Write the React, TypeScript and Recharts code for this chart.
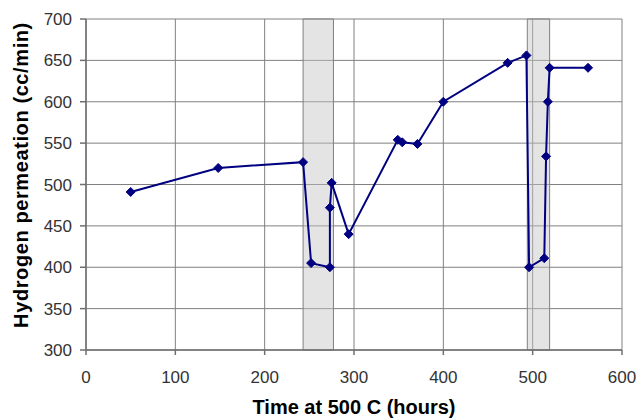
import React from 'react';
import { LineChart, Line, XAxis, YAxis, CartesianGrid, ReferenceArea } from 'recharts';

const hours = [50, 148, 243, 252, 273, 273, 275, 294, 349, 354, 371, 400, 472, 493, 496, 513, 515, 517, 519, 562];
const permeation = [491, 520, 527, 405, 400, 472, 502, 440, 554, 551, 549, 600, 647, 656, 400, 411, 534, 600, 641, 641];
const xTicks = [0, 100, 200, 300, 400, 500, 600];
const yTicks = [300, 350, 400, 450, 500, 550, 600, 650, 700];
const shadedStart = [243, 494];
const shadedEnd = [277, 519];
const xTitle = 'Time at 500 C (hours)';
const yTitle = 'Hydrogen permeation (cc/min)';

const data = hours.map((h, i) => ({ hours: h, permeation: permeation[i] }));

const FONT = '"Liberation Sans", Arial, sans-serif';
const NAVY = '#000080';
const GRID = '#808080';

const Diamond = (props: any) => {
  const { cx, cy, index } = props;
  if (cx == null || cy == null) return null;
  const r = 4.5;
  return (
    <path
      key={`d-${index}`}
      d={`M${cx},${cy - r}L${cx + r},${cy}L${cx},${cy + r}L${cx - r},${cy}Z`}
      fill={NAVY}
      stroke={NAVY}
      strokeWidth={1}
    />
  );
};

const XTitle = () => (
  <text x={346} y={406} textAnchor="middle" fontFamily={FONT} fontWeight="bold" fontSize={20} fill="#000">
    {xTitle}
  </text>
);

const YTitle = () => {
  const cx = 13;
  const cy = 167;
  return (
    <text
      x={cx}
      y={cy}
      transform={`rotate(-90, ${cx}, ${cy})`}
      textAnchor="middle"
      dominantBaseline="central"
      fontFamily={FONT}
      fontWeight="bold"
      fontSize={20}
      letterSpacing={0.6}
      fill="#000"
    >
      {yTitle}
    </text>
  );
};

export default function App() {
  return (
    <div style={{ width: 638, height: 419, boxSizing: 'border-box', paddingTop: 8, paddingLeft: 8, background: '#fff' }}>
      <style>{'html,body{margin:0;padding:0;overflow:hidden;}'}</style>
      <LineChart width={630} height={411} data={data} margin={{ top: 11, right: 16, bottom: 0, left: 0 }}>
        {shadedStart.map((s, i) => (
          <ReferenceArea
            key={`area-${i}`}
            x1={s}
            x2={shadedEnd[i]}
            y1={300}
            y2={700}
            fill="#c4c4c4"
            fillOpacity={0.45}
            stroke={GRID}
            strokeOpacity={1}
            strokeWidth={1}
            ifOverflow="visible"
          />
        ))}
        <CartesianGrid stroke={GRID} strokeWidth={1} horizontalValues={yTicks} verticalValues={xTicks} />
        <XAxis
          dataKey="hours"
          type="number"
          domain={[0, 600]}
          ticks={xTicks}
          interval={0}
          height={69}
          tickSize={5}
          tickMargin={16}
          axisLine={{ stroke: '#6f6f6f', strokeWidth: 1.5 }}
          tickLine={{ stroke: '#6f6f6f', strokeWidth: 1.5 }}
          tick={{ fontFamily: FONT, fontSize: 17, fill: '#333' }}
          label={() => <XTitle />}
        />
        <YAxis
          type="number"
          domain={[300, 700]}
          ticks={yTicks}
          interval={0}
          width={78}
          tickSize={6}
          tickMargin={8}
          axisLine={{ stroke: '#6f6f6f', strokeWidth: 1.5 }}
          tickLine={{ stroke: '#6f6f6f', strokeWidth: 1.5 }}
          tick={{ fontFamily: FONT, fontSize: 17, fill: '#333' }}
          label={() => <YTitle />}
        />
        <Line
          dataKey="permeation"
          type="linear"
          stroke={NAVY}
          strokeWidth={2}
          dot={(p: any) => <Diamond {...p} />}
          activeDot={false}
          isAnimationActive={false}
        />
      </LineChart>
    </div>
  );
}
